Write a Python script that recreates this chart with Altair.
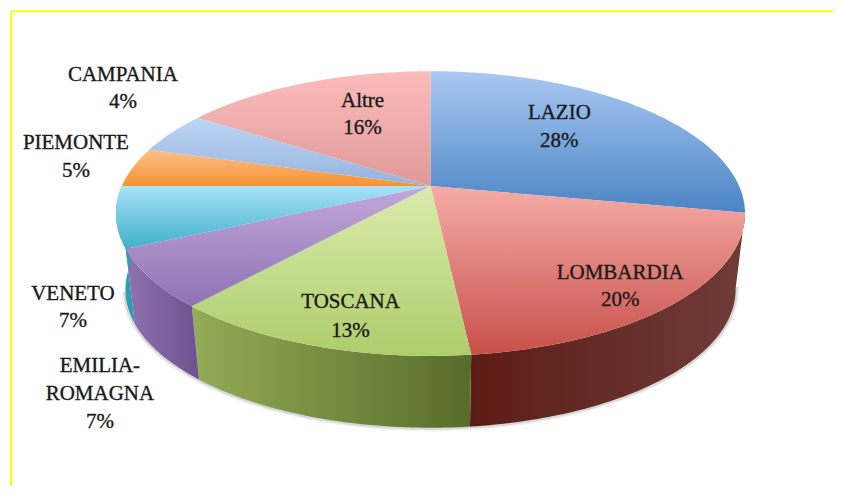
import math
import altair as alt
import pandas as pd

# Data
REGIONS = ["LAZIO", "LOMBARDIA", "TOSCANA", "EMILIA-ROMAGNA", "VENETO", "PIEMONTE", "CAMPANIA", "Altre"]
SHARES = [28.0, 20.3, 13.2, 6.6, 6.9, 4.5, 4.8, 15.7]
PCT_LABELS = ["28%", "20%", "13%", "7%", "7%", "5%", "4%", "16%"]

# Top-face gradients (top stop, bottom stop)
TOP_COLORS = [
    ("#aac8f2", "#4a85c4"), ("#f6aca7", "#c8504a"), ("#d9ecac", "#aecd6c"), ("#c3a8dc", "#8f72b2"),
    ("#a9e2f7", "#3fb0cb"), ("#fbc088", "#f79235"), ("#bfd6f6", "#93b3dd"), ("#fcbcba", "#df9a98"),
]
# Side-wall gradients (left stop, right stop), only the visible walls
WALL_COLORS = {
    "LOMBARDIA": ("#5c1c16", "#6f3c38"),
    "TOSCANA": ("#93ac56", "#586c2a"),
    "EMILIA-ROMAGNA": ("#8f72ae", "#6e5190"),
    "VENETO": ("#3aaac6", "#2f93ad"),
}

# Text block centres, one line per entry
LABEL_LINES = [
    "LAZIO", "28%", "LOMBARDIA", "20%", "TOSCANA", "13%", "EMILIA-", "ROMAGNA", "7%",
    "VENETO", "7%", "PIEMONTE", "5%", "CAMPANIA", "4%", "Altre", "16%",
]
LABEL_X = [560, 560, 621, 621, 351, 351, 100, 100, 100, 73, 73, 76, 76, 123, 123, 363, 363]
LABEL_Y = [113, 141, 273, 300, 302, 331, 366, 394, 422, 294, 321, 143, 171, 75, 102, 101, 128]

# Perspective view of the disc
CX, CY = 431.0, 186.0
AX_X, AX_Y, TILT = 309.0, 137.2, 0.193
WALL_DROP, WALL_SCALE = 77.0, 0.97


def rim(deg, bottom=False):
    a = math.radians(deg)
    w = 1 - TILT * (-math.cos(a))
    dx = AX_X * math.sin(a) / w
    dy = AX_Y * (-math.cos(a)) / w
    if bottom:
        return CX + WALL_SCALE * dx, CY + WALL_DROP + WALL_SCALE * dy
    return CX + dx, CY + dy


def arc_degs(a0, a1):
    n = max(2, int(abs(a1 - a0)) + 1)
    return [a0 + (a1 - a0) * i / n for i in range(n + 1)]


XS = alt.Scale(domain=[8, 834], range=[0, 826], nice=False, zero=False)
YS = alt.Scale(domain=[8, 486], range=[0, 478], nice=False, zero=False)


def polygon(points, fill):
    df = pd.DataFrame(points, columns=["x", "y"])
    df["i"] = range(len(df))
    return alt.Chart(df).mark_line(fill=fill, strokeWidth=0, stroke="transparent", fillOpacity=1).encode(
        x=alt.X("x:Q", scale=XS, axis=None),
        y=alt.Y("y:Q", scale=YS, axis=None),
        order="i:Q",
    )


def grad(c0, c1, vertical=True):
    return alt.Gradient(
        gradient="linear",
        x1=0, y1=0,
        x2=0 if vertical else 1,
        y2=1 if vertical else 0,
        stops=[alt.GradientStop(color=c0, offset=0), alt.GradientStop(color=c1, offset=1)],
    )


edges = [0.0]
for s in SHARES:
    edges.append(edges[-1] + s * 3.6)

layers = []

# soft shadow under the lower rim
shadow_df = pd.DataFrame(
    [rim(d, True) for d in arc_degs(100, 258)], columns=["x", "y"]
)
shadow_df["i"] = range(len(shadow_df))
for w, op in [(7, 0.10), (4, 0.22)]:
    layers.append(
        alt.Chart(shadow_df).mark_line(color="#7a7a7a", strokeWidth=w, opacity=op).encode(
            x=alt.X("x:Q", scale=XS, axis=None),
            y=alt.Y("y:Q", scale=YS, axis=None),
            order="i:Q",
        )
    )

# side walls
for name, a0, a1 in zip(REGIONS, edges[:-1], edges[1:]):
    if name in WALL_COLORS:
        start = max(a0, 100.0)
        degs = arc_degs(start, a1)
        pts = [rim(d) for d in degs] + [rim(d, True) for d in reversed(degs)]
        layers.append(polygon(pts, grad(*WALL_COLORS[name], vertical=False)))

# top faces
for (c0, c1), a0, a1 in zip(TOP_COLORS, edges[:-1], edges[1:]):
    pts = [(CX, CY)] + [rim(d) for d in arc_degs(a0, a1)]
    layers.append(polygon(pts, grad(c0, c1)))

# yellow frame
frame_v = pd.DataFrame({"x": [11], "y": [11], "y2": [486]})
frame_h = pd.DataFrame({"x": [11], "x2": [834], "y": [11]})
layers.append(
    alt.Chart(frame_v).mark_rule(color="#ffff00", strokeWidth=2).encode(
        x=alt.X("x:Q", scale=XS, axis=None), y=alt.Y("y:Q", scale=YS, axis=None), y2="y2:Q"
    )
)
layers.append(
    alt.Chart(frame_h).mark_rule(color="#ffff00", strokeWidth=2).encode(
        x=alt.X("x:Q", scale=XS, axis=None), x2="x2:Q", y=alt.Y("y:Q", scale=YS, axis=None)
    )
)

# labels
labels = pd.DataFrame({"t": LABEL_LINES, "x": LABEL_X, "y": LABEL_Y})
layers.append(
    alt.Chart(labels).mark_text(
        font="Liberation Serif", fontSize=21, color="#1a1a1a", align="center", baseline="middle",
        stroke="#1a1a1a", strokeWidth=0.35,
    ).encode(
        x=alt.X("x:Q", scale=XS, axis=None),
        y=alt.Y("y:Q", scale=YS, axis=None),
        text="t:N",
    )
)

chart = (
    alt.layer(*layers)
    .properties(width=826, height=478, padding=0, background="white")
    .configure_view(stroke=None)
)
chart.save("out.html", embed_options={"renderer": "svg", "actions": False})
